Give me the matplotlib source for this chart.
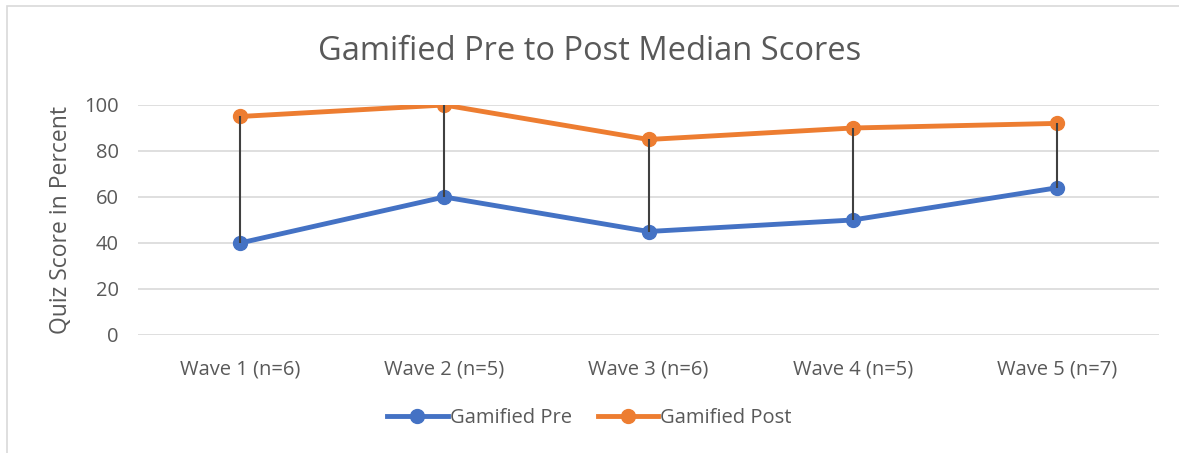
import matplotlib.pyplot as plt
from matplotlib.patches import Rectangle
import numpy as np

# chart data
waves = ["Wave 1 (n=6)", "Wave 2 (n=5)", "Wave 3 (n=6)", "Wave 4 (n=5)", "Wave 5 (n=7)"]
pre = [40, 60, 45, 50, 64]
post = [95, 100, 85, 90, 92]
y_ticks = [0, 20, 40, 60, 80, 100]

txt = "#595959"
plt.rcParams['font.family'] = ['Open Sans', 'DejaVu Sans']

fig = plt.figure(figsize=(11.79, 4.53), dpi=100)
W, H = 1179, 453
ax = fig.add_axes([138 / W, 1 - 335 / H, (1159 - 138) / W, (335 - 105) / H])

# outer chart border
fig.patches.append(Rectangle((7 / W, -0.05), 1.2, 1 - 6 / H + 0.05, transform=fig.transFigure,
                             fill=False, edgecolor="#d9d9d9", linewidth=1.2))

x = np.arange(len(waves))

# high-low lines between pre and post
ax.vlines(x, pre, post, color="#404040", linewidth=1.5, zorder=4)

ax.plot(x, pre, color="#4472C4", linewidth=3.5, marker="o", markersize=10,
        label="Gamified Pre", zorder=3)
ax.plot(x, post, color="#ED7D31", linewidth=3.5, marker="o", markersize=10,
        label="Gamified Post", zorder=3)

ax.set_xlim(-0.5, len(waves) - 0.5)
ax.set_ylim(0, 100)
ax.set_yticks(y_ticks)
ax.set_xticks(x)
ax.set_xticklabels(waves)
ax.tick_params(axis="both", length=0, labelsize=14.5, colors=txt)
ax.tick_params(axis="x", pad=18)
ax.tick_params(axis="y", pad=14)
ax.grid(axis="y", color="#d9d9d9", linewidth=1.2)
ax.set_axisbelow(True)
for s in ax.spines.values():
    s.set_visible(False)

ax.set_ylabel("Quiz Score in Percent", fontsize=16.5, color=txt, labelpad=8)
fig.text(0.5, 1 - 52 / H, "Gamified Pre to Post Median Scores", ha="center", va="center",
         fontsize=23.5, color=txt)

fig.legend(loc="center", bbox_to_anchor=(0.5, 1 - 418 / H), ncol=2, frameon=False,
           fontsize=14.5, labelcolor=txt, handlelength=3.0, columnspacing=1.3,
           handletextpad=0.1)

fig.savefig("out.png", dpi=100)
